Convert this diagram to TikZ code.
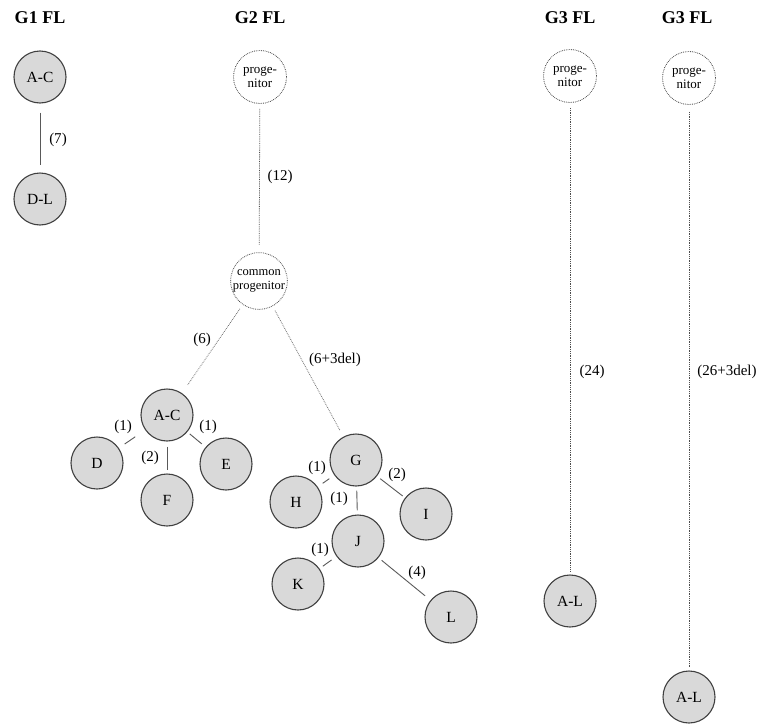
\documentclass[tikz,border=0pt]{standalone}
\usepackage{fontspec}
\setmainfont{Liberation Serif}
\tikzset{
  gene/.style={circle,draw=black!75,line width=1.1pt,fill=black!15,minimum size=52pt,inner sep=0pt,font=\fontsize{15.5}{17}\selectfont},
  ancestor/.style={circle,draw=black!70,densely dotted,line width=0.8pt,minimum size=53pt,inner sep=0pt,align=center,font=\fontsize{13}{14}\selectfont},
  title/.style={font=\fontsize{18}{20}\selectfont\bfseries},
  count/.style={font=\fontsize{15}{17}\selectfont},
  link/.style={draw=black!65,line width=0.9pt},
  trace/.style={draw=black!70,densely dotted,line width=0.8pt},
}
\begin{document}
\begin{tikzpicture}[x=1pt,y=-1pt]
        \useasboundingbox (0,0) rectangle (763,723);
        % column titles
        \node[title] (t1) at (40,18) {G1 FL};
        \node[title] (t2) at (260,18) {G2 FL};
        \node[title] (t3) at (570,18) {G3 FL};
        \node[title] (t4) at (687,18) {G3 FL};
        % G1
        \node[gene] (ac1) at (40,77) {A-C};
        \node[gene] (dl1) at (40,199) {D-L};
        \draw[link,shorten <=9pt,shorten >=7pt] (ac1) -- (dl1);
        \node[count] (c7) at (58,140) {(7)};
        % G2
        \node[ancestor] (prog2) at (260,77) {proge-\\nitor};
        \node[ancestor,font=\fontsize{12.5}{14}\selectfont] (common) at (259,281) {common\\progenitor};
        \draw[trace,shorten <=5pt,shorten >=7pt] (prog2) -- (common);
        \node[count] (c12) at (280,177) {(12)};
        \node[gene] (ac2) at (167,415) {A-C};
        \node[gene] (d) at (97,463) {D};
        \node[gene] (e) at (226,464) {E};
        \node[gene] (f) at (167,500) {F};
        \node[gene] (g) at (356,460) {G};
        \node[gene] (h) at (296,502) {H};
        \node[gene] (i) at (426,514) {I};
        \node[gene] (j) at (358,541) {J};
        \node[gene] (k) at (298,584) {K};
        \node[gene] (l) at (451,617) {L};
        \draw[trace,black!55,shorten <=5pt,shorten >=10pt] (common) -- (ac2);
        \draw[trace,black!55,shorten <=5pt,shorten >=7pt] (common) -- (g);
        \node[count] (c6) at (202,340) {(6)};
        \node[count] (c6del) at (335,360) {(6+3del)};
        \draw[link,shorten <=12pt,shorten >=7pt] (ac2) -- (d);
        \draw[link,shorten <=5pt,shorten >=3pt] (ac2) -- (f);
        \draw[link,shorten <=3pt,shorten >=5pt] (ac2) -- (e);
        \node[count] (cd) at (123,427) {(1)};
        \node[count] (cf) at (150,458) {(2)};
        \node[count] (ce) at (208,427) {(1)};
        \draw[link,shorten <=6pt,shorten >=6pt] (g) -- (h);
        \draw[link,shorten <=4pt,shorten >=4pt] (g) -- (j);
        \draw[link,shorten <=4pt,shorten >=3pt] (g) -- (i);
        \draw[link,shorten <=6pt,shorten >=4pt] (j) -- (k);
        \draw[link,shorten <=4pt,shorten >=7pt] (j) -- (l);
        \node[count] (ch) at (317,468) {(1)};
        \node[count] (cj) at (339,499) {(1)};
        \node[count] (ci) at (397,475) {(2)};
        \node[count] (ck) at (320,550) {(1)};
        \node[count] (cl) at (417,573) {(4)};
        % G3
        \node[ancestor] (prog3) at (570,76) {proge-\\nitor};
        \node[gene] (al3) at (570,601) {A-L};
        \draw[trace,shorten <=5pt,shorten >=3pt] (prog3) -- (al3);
        \node[count] (c24) at (592,372) {(24)};
        \node[ancestor] (prog4) at (689,78) {proge-\\nitor};
        \node[gene] (al4) at (689,697) {A-L};
        \draw[trace,shorten <=7pt,shorten >=4pt] (prog4) -- (al4);
        \node[count] (c26) at (727,372) {(26+3del)};
    \end{tikzpicture}
\end{document}
